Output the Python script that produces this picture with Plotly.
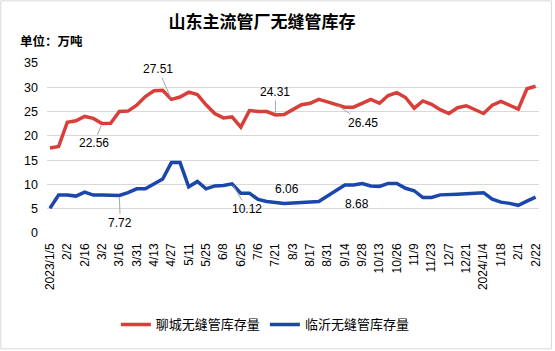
import plotly.graph_objects as go

dates = ["2023/1/5","1/12","2/2","2/9","2/16","2/23","3/2","3/9","3/16","3/23","3/31","4/7","4/13","4/20","4/27",
         "5/4","5/11","5/18","5/25","6/1","6/8","6/15","6/25","6/29","7/6","7/13","7/21","7/27","8/3","8/10",
         "8/17","8/24","8/31","9/7","9/14","9/21","9/28","10/8","10/13","10/19","10/26","11/2","11/9","11/16",
         "11/23","11/30","12/7","12/14","12/21","12/28","2024/1/4","1/11","1/18","1/25","2/1","2/8","2/22"]

liaocheng = [17.5, 17.8, 22.8, 23.1, 24.0, 23.6, 22.56, 22.6, 25.0, 25.1, 26.3, 28.1, 29.3, 29.4, 27.51,
             28.0, 29.0, 28.5, 26.4, 24.6, 23.7, 23.9, 21.8, 25.2, 25.0, 25.0, 24.31, 24.4, 25.4, 26.4,
             26.7, 27.5, 27.0, 26.45, 25.9, 25.9, 26.7, 27.5, 26.7, 28.3, 28.9, 27.9, 25.7, 27.2,
             26.5, 25.4, 24.6, 25.8, 26.2, 25.4, 24.6, 26.3, 27.1, 26.3, 25.5, 29.7, 30.2]

linyi = [5.1, 7.8, 7.8, 7.6, 8.4, 7.8, 7.8, 7.8, 7.72, 8.3, 9.1, 9.1, 10.2, 11.1, 14.5,
         14.5, 9.5, 10.6, 9.1, 9.7, 9.8, 10.12, 8.2, 8.2, 6.9, 6.5, 6.3, 6.06, 6.2, 6.35,
         6.5, 6.5, 7.6, 8.68, 9.9, 9.9, 10.2, 9.7, 9.6, 10.2, 10.2, 9.2, 8.7, 7.3,
         7.3, 7.85, 7.85, 8.0, 8.1, 8.2, 8.3, 6.95, 6.35, 6.1, 5.7, 6.55, 7.4]

tick_labels = dates[::2]
names = ["聊城无缝管库存量", "临沂无缝管库存量"]
colors = ["#d83f39", "#1b47ad"]

# labelled points: (index, x-offset px, y-offset px, arrow)
red_labels = [(6, -8, 20, True), (14, -13, -30, True), (26, 0, -23, True), (33, 27, 18, True)]
blue_labels = [(8, 1, 27, True), (21, 15, 25, True), (27, 3, -15, False), (33, 21, 13, False)]

FONT = "Liberation Sans, Arial, Noto Sans CJK SC"
W, H = 555, 351
ML, MR, MT, MB = 47, 13, 63, 117
PW, PH = W - ML - MR, H - MT - MB

fig = go.Figure()
fig.add_trace(go.Scatter(x=dates, y=liaocheng, mode="lines", name=names[0],
                         line=dict(color=colors[0], width=3.5)))
fig.add_trace(go.Scatter(x=dates, y=linyi, mode="lines", name=names[1],
                         line=dict(color=colors[1], width=3.5)))

annotations = []
for series, labels in ((liaocheng, red_labels), (linyi, blue_labels)):
    for idx, dx, dy, arrow in labels:
        v = series[idx]
        if arrow:
            annotations.append(dict(x=dates[idx], y=v, text=f"{v:.2f}", showarrow=True,
                                    arrowhead=0, arrowwidth=1, arrowcolor="#a6a6a6",
                                    ax=dx, ay=dy, standoff=2,
                                    font=dict(size=12, color="#000000")))
        else:
            annotations.append(dict(x=dates[idx], y=v, text=f"{v:.2f}", showarrow=False,
                                    xshift=dx, yshift=-dy,
                                    font=dict(size=12, color="#000000")))

annotations.append(dict(xref="paper", yref="paper", x=(18 - ML) / PW, y=(MT + PH - 41.7) / PH,
                        xanchor="left", yanchor="middle", showarrow=False,
                        text="<b>单位：万吨</b>", font=dict(size=12.5, color="#000000")))

fig.update_layout(
    width=W, height=H,
    margin=dict(l=ML, r=MR, t=MT, b=MB),
    paper_bgcolor="white", plot_bgcolor="white",
    font=dict(family=FONT, size=12, color="#000000"),
    title=dict(text="<b>山东主流管厂无缝管库存</b>", x=262 / W, xanchor="center",
               y=1 - 21.7 / H, yanchor="middle", yref="container",
               font=dict(size=17, color="#000000")),
    xaxis=dict(type="category", range=[-0.34, 56.39], showgrid=False, zeroline=False,
               tickmode="array", tickvals=tick_labels, ticktext=tick_labels,
               tickangle=-90, tickfont=dict(size=12), ticks="", ticklabelstandoff=7,
               showline=False),
    yaxis=dict(range=[0, 35], dtick=5, tick0=0, showgrid=True, gridcolor="#d9d9d9",
               gridwidth=1, zeroline=False, showline=False, ticks="",
               tickfont=dict(size=12.5), ticklabelstandoff=8),
    legend=dict(orientation="h", x=(266.7 - ML) / PW, xanchor="center",
                y=(MT + PH - 326) / PH, yanchor="middle",
                font=dict(size=13), itemwidth=30, bgcolor="rgba(0,0,0,0)"),
    annotations=annotations,
    shapes=[dict(type="rect", xref="paper", yref="paper",
                 x0=(-ML + 0.5) / PW, x1=1 + (MR - 0.5) / PW,
                 y0=(-MB + 0.5) / PH, y1=1 + (MT - 0.5) / PH,
                 line=dict(color="#d9d9d9", width=1), layer="below")],
)

fig.write_html("out.html")
